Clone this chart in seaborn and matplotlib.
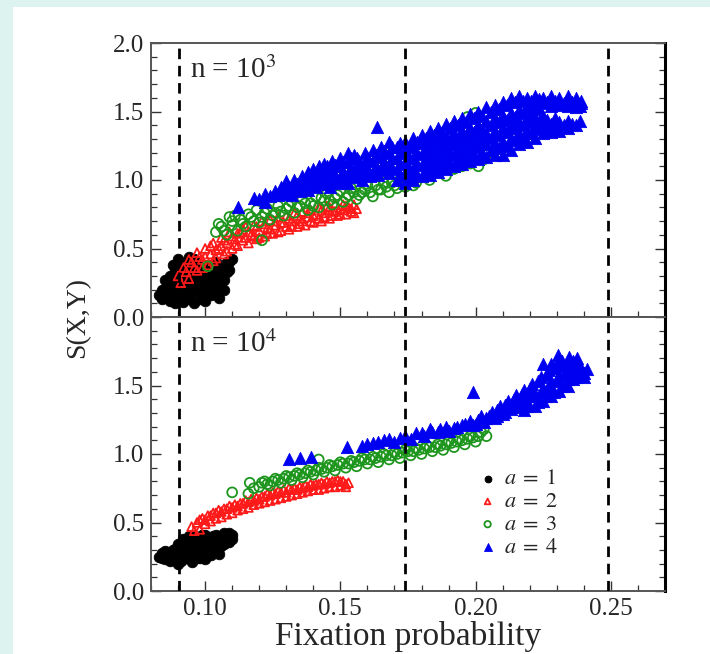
import matplotlib
matplotlib.use("Agg")
import matplotlib.pyplot as plt
import pandas as pd
import seaborn as sns
from matplotlib.ticker import MultipleLocator, NullFormatter
from matplotlib.patches import Rectangle

# ---------------- data ----------------
panel_titles = ["n = 10$^{3}$", "n = 10$^{4}$"]
series_labels = [r"$a\;=\;1$", r"$a\;=\;2$", r"$a\;=\;3$", r"$a\;=\;4$"]
x_ticks = [0.10, 0.15, 0.20, 0.25]
vlines_x = [0.0905, 0.174, 0.249]

# n = 10^3 panel
top_a1 = [(0.083,0.16),(0.084,0.20),(0.085,0.15),(0.086,0.25),(0.087,0.12),(0.087,0.30),(0.088,0.18),
          (0.088,0.38),(0.089,0.22),(0.089,0.10),(0.090,0.33),(0.090,0.42),(0.091,0.15),(0.091,0.27),
          (0.092,0.38),(0.092,0.11),(0.093,0.20),(0.093,0.32),(0.094,0.44),(0.094,0.14),(0.095,0.25),
          (0.095,0.36),(0.096,0.10),(0.096,0.30),(0.097,0.19),(0.097,0.40),(0.098,0.13),(0.098,0.27),
          (0.099,0.34),(0.100,0.22),(0.100,0.12),(0.101,0.38),(0.101,0.29),(0.102,0.16),(0.103,0.33),
          (0.103,0.24),(0.104,0.40),(0.105,0.30),(0.106,0.36),(0.107,0.27),(0.108,0.40),(0.109,0.34),
          (0.110,0.42),(0.105,0.14),
          (0.084,0.13),(0.085,0.27),(0.086,0.18),(0.087,0.22),(0.088,0.14),(0.089,0.34),(0.090,0.26),
          (0.090,0.18),(0.091,0.36),(0.092,0.30),(0.093,0.40),(0.093,0.13),(0.094,0.24),(0.095,0.18),
          (0.095,0.31),(0.096,0.42),(0.096,0.22),(0.097,0.28),(0.098,0.36),(0.098,0.20),(0.099,0.16),
          (0.099,0.26),(0.100,0.31),(0.101,0.20),(0.102,0.35),(0.102,0.25),(0.104,0.20),(0.104,0.29),
          (0.106,0.22),(0.106,0.30),(0.108,0.33),(0.109,0.40),(0.107,0.20)]
top_a2 = [(0.090,0.30),(0.092,0.36),(0.094,0.28),(0.095,0.40),(0.097,0.34),(0.097,0.47),(0.099,0.42),
          (0.100,0.50),(0.101,0.38),(0.102,0.46),(0.103,0.54),(0.104,0.43),(0.105,0.50),(0.106,0.58),
          (0.107,0.46),(0.108,0.54),(0.109,0.62),(0.110,0.50),(0.111,0.57),(0.112,0.52),(0.113,0.62),
          (0.114,0.56),(0.115,0.66),(0.116,0.54),(0.117,0.60),(0.118,0.67),(0.119,0.57),(0.120,0.63),
          (0.121,0.70),(0.122,0.59),(0.123,0.65),(0.124,0.71),(0.125,0.61),(0.126,0.67),(0.127,0.73),
          (0.128,0.63),(0.129,0.69),(0.130,0.74),(0.131,0.64),(0.132,0.70),(0.133,0.76),(0.134,0.66),
          (0.135,0.72),(0.136,0.77),(0.137,0.67),(0.138,0.73),(0.139,0.78),(0.140,0.69),(0.141,0.75),
          (0.142,0.80),(0.143,0.70),(0.144,0.76),(0.145,0.81),(0.146,0.72),(0.147,0.78),(0.148,0.83),
          (0.149,0.74),(0.150,0.79),(0.151,0.82),(0.152,0.75),(0.153,0.80),(0.154,0.77),(0.155,0.82),
          (0.156,0.79),
          (0.091,0.25),(0.093,0.33),(0.094,0.42),(0.096,0.36),(0.098,0.44),(0.099,0.36),(0.100,0.44),
          (0.102,0.52),(0.103,0.41),(0.104,0.49),(0.106,0.52),(0.107,0.56),(0.108,0.48),(0.110,0.59),
          (0.111,0.53),(0.112,0.61),(0.114,0.64),(0.115,0.58),(0.116,0.62),(0.118,0.59),(0.119,0.66),
          (0.120,0.58),(0.122,0.68),(0.123,0.61),(0.124,0.64),(0.126,0.70),(0.127,0.62),(0.128,0.69),
          (0.130,0.66),(0.131,0.72),(0.132,0.66),(0.134,0.74),(0.135,0.68),(0.136,0.70),(0.138,0.76),
          (0.139,0.70),(0.140,0.74),(0.142,0.72),(0.143,0.78),(0.144,0.73),(0.146,0.80),(0.147,0.74),
          (0.148,0.77),(0.150,0.75),(0.151,0.78),(0.152,0.81),(0.154,0.79),(0.155,0.76)]
top_a3 = [(0.101,0.37),(0.104,0.62),(0.106,0.66),(0.108,0.60),(0.109,0.73),(0.110,0.67),(0.112,0.63),
          (0.113,0.71),(0.115,0.66),(0.116,0.75),(0.118,0.70),(0.119,0.78),(0.121,0.56),(0.121,0.73),
          (0.123,0.79),(0.124,0.71),(0.126,0.76),(0.127,0.81),(0.129,0.74),(0.130,0.79),(0.132,0.84),
          (0.133,0.76),(0.135,0.81),(0.136,0.86),(0.138,0.78),(0.139,0.83),(0.141,0.88),(0.142,0.80),
          (0.144,0.85),(0.145,0.90),(0.147,0.82),(0.148,0.87),(0.150,0.92),(0.151,0.84),(0.153,0.89),
          (0.154,0.94),(0.156,0.86),(0.158,0.91),(0.160,0.96),(0.162,0.88),(0.164,0.93),(0.166,0.98),
          (0.168,0.91),(0.170,0.96),(0.172,1.00),(0.174,0.95),(0.176,1.02),(0.178,0.98),(0.180,1.04),
          (0.183,1.00),(0.186,1.06),(0.189,1.03),(0.192,1.08),(0.195,1.10),(0.198,1.12),(0.201,1.10),
          (0.203,1.15),(0.200,1.49),(0.197,1.46),(0.205,1.20),
          (0.105,0.68),(0.107,0.63),(0.110,0.70),(0.111,0.74),(0.114,0.68),(0.117,0.73),(0.120,0.69),
          (0.122,0.76),(0.125,0.74),(0.128,0.77),(0.131,0.81),(0.134,0.80),(0.137,0.83),(0.140,0.81),
          (0.143,0.87),(0.146,0.85),(0.149,0.89),(0.152,0.87),(0.155,0.91),(0.157,0.89),(0.159,0.93),
          (0.161,0.91),(0.163,0.96),(0.165,0.93),(0.167,0.95),(0.169,0.98),(0.171,0.94),(0.173,0.98),
          (0.175,0.99),(0.177,0.96)]
top_a4 = [(0.112,0.80),(0.118,0.87),(0.122,0.84),(0.122,0.90),(0.126,0.92),(0.128,0.95),(0.130,0.99),
          (0.130,0.90),(0.133,0.93),(0.133,1.00),(0.136,0.96),(0.136,1.03),(0.138,0.93),(0.138,1.06),
          (0.140,0.98),(0.140,1.08),(0.142,1.01),(0.142,1.10),(0.144,0.97),(0.144,1.05),(0.144,1.12),
          (0.147,1.00),(0.147,1.07),(0.147,1.14),(0.150,1.02),(0.150,1.10),(0.150,1.16),(0.153,0.98),
          (0.153,1.05),(0.153,1.13),(0.153,1.20),(0.155,1.18),(0.156,1.03),(0.156,1.10),(0.156,1.16),
          (0.159,1.05),(0.159,1.12),(0.159,1.20),(0.1635,1.39),(0.162,1.06),(0.162,1.14),(0.162,1.22),
          (0.165,1.09),(0.165,1.17),(0.165,1.24),(0.168,1.28),(0.168,1.05),(0.168,1.12),(0.168,1.20),
          (0.171,1.00),(0.171,1.08),(0.171,1.16),(0.171,1.24),
          (0.174,0.98),(0.174,1.05),(0.174,1.13),(0.174,1.21),(0.174,1.28),
          (0.177,1.00),(0.177,1.08),(0.177,1.16),(0.177,1.24),(0.177,1.31),
          (0.180,1.03),(0.180,1.11),(0.180,1.19),(0.180,1.27),(0.180,1.33),
          (0.183,1.04),(0.183,1.12),(0.183,1.20),(0.183,1.28),(0.183,1.36),
          (0.186,1.06),(0.186,1.14),(0.186,1.22),(0.186,1.30),(0.186,1.38),
          (0.189,1.08),(0.189,1.16),(0.189,1.24),(0.189,1.32),(0.189,1.41),
          (0.192,1.10),(0.192,1.18),(0.192,1.26),(0.192,1.34),(0.192,1.43),
          (0.195,1.12),(0.195,1.20),(0.195,1.28),(0.195,1.36),(0.195,1.45),
          (0.198,1.14),(0.198,1.22),(0.198,1.30),(0.198,1.38),(0.198,1.48),
          (0.201,1.15),(0.201,1.24),(0.201,1.32),(0.201,1.40),(0.201,1.50),
          (0.204,1.17),(0.204,1.26),(0.204,1.34),(0.204,1.43),(0.204,1.53),
          (0.207,1.18),(0.207,1.27),(0.207,1.36),(0.207,1.45),(0.207,1.55),
          (0.210,1.18),(0.210,1.28),(0.210,1.38),(0.210,1.47),(0.210,1.57),
          (0.213,1.22),(0.213,1.31),(0.213,1.40),(0.213,1.49),(0.213,1.60),
          (0.216,1.26),(0.216,1.34),(0.216,1.42),(0.216,1.51),(0.216,1.61),
          (0.219,1.28),(0.219,1.36),(0.219,1.44),(0.219,1.53),(0.219,1.60),
          (0.222,1.31),(0.222,1.38),(0.222,1.45),(0.222,1.55),(0.222,1.61),
          (0.225,1.34),(0.225,1.40),(0.225,1.47),(0.225,1.56),(0.225,1.60),
          (0.228,1.35),(0.228,1.41),(0.228,1.54),(0.228,1.61),
          (0.231,1.36),(0.231,1.42),(0.231,1.55),(0.231,1.60),
          (0.234,1.38),(0.234,1.43),(0.234,1.54),(0.234,1.61),
          (0.237,1.40),(0.237,1.53),(0.237,1.60),(0.239,1.56),(0.239,1.58),
          (0.120,0.86),(0.124,0.88),(0.127,0.89),(0.129,0.93),(0.131,0.95),(0.132,0.89),(0.134,0.97),
          (0.135,0.92),(0.137,1.00),(0.139,0.97),(0.139,1.04),(0.141,1.02),(0.141,0.95),(0.143,1.07),
          (0.143,0.99),(0.145,1.02),(0.145,1.10),(0.146,0.95),(0.148,1.04),(0.148,1.11),(0.149,0.98),
          (0.151,1.06),(0.151,1.13),(0.152,1.00),(0.154,1.09),(0.154,1.16),(0.155,1.02),(0.157,1.07),
          (0.157,1.14),(0.158,1.00),(0.160,1.09),(0.160,1.17),(0.161,1.03),(0.163,1.10),(0.163,1.18),
          (0.164,1.04),(0.166,1.13),(0.166,1.21),(0.167,1.07),(0.169,1.09),(0.169,1.16),(0.169,1.24),
          (0.172,1.04),(0.172,1.12),(0.172,1.20),(0.172,1.27),
          (0.1755,1.02),(0.1755,1.09),(0.1755,1.17),(0.1755,1.25),
          (0.1785,1.04),(0.1785,1.12),(0.1785,1.20),(0.1785,1.28),
          (0.1815,1.07),(0.1815,1.15),(0.1815,1.23),(0.1815,1.31),
          (0.1845,1.08),(0.1845,1.16),(0.1845,1.24),(0.1845,1.33),
          (0.1875,1.10),(0.1875,1.18),(0.1875,1.27),(0.1875,1.35),
          (0.1905,1.12),(0.1905,1.20),(0.1905,1.29),(0.1905,1.38),
          (0.1935,1.14),(0.1935,1.22),(0.1935,1.31),(0.1935,1.40),
          (0.1965,1.16),(0.1965,1.24),(0.1965,1.33),(0.1965,1.42),
          (0.1995,1.18),(0.1995,1.26),(0.1995,1.35),(0.1995,1.45),
          (0.2025,1.20),(0.2025,1.29),(0.2025,1.37),(0.2025,1.47),
          (0.2055,1.22),(0.2055,1.31),(0.2055,1.40),(0.2055,1.50),
          (0.2085,1.23),(0.2085,1.33),(0.2085,1.42),(0.2085,1.52),
          (0.2115,1.25),(0.2115,1.35),(0.2115,1.44),(0.2115,1.55),
          (0.2145,1.29),(0.2145,1.38),(0.2145,1.46),(0.2145,1.57),
          (0.2175,1.31),(0.2175,1.40),(0.2175,1.49),(0.2175,1.58),
          (0.2205,1.34),(0.2205,1.42),(0.2205,1.50),(0.2205,1.58),
          (0.2235,1.37),(0.2235,1.43),(0.2235,1.52),(0.2235,1.59),
          (0.2265,1.38),(0.2265,1.44),(0.2265,1.57),
          (0.2295,1.39),(0.2295,1.45),(0.2295,1.58),
          (0.2325,1.40),(0.2325,1.56),(0.2355,1.41),(0.2355,1.57),(0.2385,1.54),(0.2385,1.43)]

# n = 10^4 panel
bot_a1 = [(0.083,0.25),(0.084,0.28),(0.085,0.23),(0.086,0.26),(0.087,0.22),(0.088,0.30),(0.089,0.25),
          (0.090,0.20),(0.090,0.34),(0.091,0.28),(0.092,0.38),(0.092,0.23),(0.093,0.32),(0.094,0.27),
          (0.094,0.40),(0.095,0.21),(0.096,0.35),(0.096,0.29),(0.097,0.39),(0.098,0.24),(0.098,0.32),
          (0.099,0.36),(0.100,0.28),(0.100,0.41),(0.101,0.33),(0.102,0.38),(0.102,0.26),(0.103,0.30),
          (0.104,0.35),(0.104,0.41),(0.105,0.32),(0.106,0.38),(0.107,0.42),(0.107,0.34),(0.108,0.39),
          (0.109,0.36),(0.110,0.41),(0.110,0.38),
          (0.084,0.24),(0.085,0.29),(0.087,0.27),(0.088,0.24),(0.089,0.31),(0.091,0.22),(0.091,0.34),
          (0.093,0.26),(0.093,0.37),(0.095,0.30),(0.095,0.25),(0.096,0.40),(0.097,0.24),(0.097,0.33),
          (0.099,0.29),(0.099,0.41),(0.100,0.23),(0.101,0.37),(0.103,0.40),(0.103,0.34),(0.105,0.27),
          (0.105,0.38),(0.106,0.33),(0.108,0.36),(0.109,0.42),(0.101,0.26)]
bot_a2 = [(0.095,0.47),(0.097,0.50),(0.098,0.45),(0.099,0.53),(0.100,0.49),(0.101,0.55),(0.102,0.51),
          (0.103,0.57),(0.104,0.53),(0.105,0.59),(0.106,0.54),(0.107,0.60),(0.108,0.56),(0.109,0.62),
          (0.110,0.57),(0.111,0.63),(0.112,0.59),(0.113,0.64),(0.114,0.60),(0.115,0.66),(0.116,0.61),
          (0.117,0.67),(0.118,0.63),(0.119,0.68),(0.120,0.64),(0.121,0.69),(0.122,0.65),(0.123,0.71),
          (0.124,0.66),(0.125,0.72),(0.126,0.67),(0.127,0.73),(0.128,0.68),(0.129,0.74),(0.130,0.69),
          (0.131,0.75),(0.132,0.70),(0.133,0.75),(0.134,0.71),(0.135,0.76),(0.136,0.72),(0.137,0.77),
          (0.138,0.73),(0.139,0.78),(0.140,0.74),(0.141,0.78),(0.142,0.74),(0.143,0.79),(0.144,0.75),
          (0.145,0.80),(0.146,0.76),(0.147,0.80),(0.148,0.76),(0.149,0.81),(0.150,0.77),(0.151,0.80),
          (0.152,0.76),(0.153,0.79),
          (0.096,0.44),(0.098,0.52),(0.100,0.52),(0.102,0.55),(0.104,0.57),(0.106,0.58),(0.108,0.60),
          (0.110,0.61),(0.112,0.62),(0.114,0.64),(0.116,0.65),(0.118,0.66),(0.120,0.67),(0.122,0.69),
          (0.124,0.70),(0.126,0.71),(0.128,0.72),(0.130,0.72),(0.132,0.74),(0.134,0.74),(0.136,0.75),
          (0.138,0.76),(0.140,0.77),(0.142,0.78),(0.144,0.78),(0.146,0.79),(0.148,0.80),(0.150,0.80),
          (0.152,0.78)]
bot_a3 = [(0.110,0.72),(0.1165,0.79),(0.116,0.71),(0.120,0.76),(0.122,0.80),(0.124,0.77),(0.126,0.82),
          (0.128,0.79),(0.130,0.84),(0.132,0.81),(0.134,0.86),(0.136,0.83),(0.138,0.88),(0.140,0.85),
          (0.142,0.96),(0.142,0.90),(0.144,0.87),(0.146,0.92),(0.148,0.88),(0.150,0.94),(0.152,0.90),
          (0.154,0.95),(0.156,0.91),(0.158,0.97),(0.160,0.93),(0.162,0.98),(0.164,0.94),(0.166,1.00),
          (0.168,0.96),(0.170,1.01),(0.172,0.97),(0.174,1.03),(0.176,0.99),(0.178,1.04),(0.180,1.00),
          (0.182,1.06),(0.184,1.02),(0.186,1.07),(0.188,1.03),(0.190,1.09),(0.192,1.05),(0.194,1.11),
          (0.196,1.07),(0.198,1.13),(0.200,1.09),(0.202,1.16),(0.201,1.21),(0.204,1.13),
          (0.118,0.75),(0.121,0.79),(0.123,0.78),(0.125,0.80),(0.127,0.81),(0.129,0.82),(0.131,0.83),
          (0.133,0.84),(0.135,0.85),(0.137,0.86),(0.139,0.87),(0.141,0.88),(0.143,0.89),(0.145,0.90),
          (0.147,0.91),(0.149,0.92),(0.151,0.93),(0.153,0.93),(0.155,0.94),(0.157,0.95),(0.159,0.96),
          (0.161,0.96),(0.163,0.97),(0.165,0.98),(0.167,0.99),(0.169,0.99),(0.171,1.00),(0.173,1.01),
          (0.175,1.02),(0.177,1.02),(0.179,1.03),(0.181,1.04),(0.183,1.05),(0.185,1.05),(0.187,1.06),
          (0.189,1.07),(0.191,1.08),(0.193,1.09),(0.195,1.10),(0.197,1.11),(0.199,1.12),(0.201,1.13),
          (0.203,1.18)]
bot_a4 = [(0.131,0.96),(0.135,0.97),(0.139,0.98),(0.1525,1.05),(0.158,1.06),(0.162,1.08),(0.166,1.10),
          (0.170,1.09),(0.172,1.12),(0.176,1.11),(0.178,1.15),(0.181,1.13),(0.184,1.16),(0.187,1.18),
          (0.190,1.17),(0.193,1.20),(0.196,1.22),(0.199,1.45),(0.199,1.21),(0.201,1.25),(0.203,1.23),
          (0.205,1.28),(0.207,1.26),(0.208,1.32),(0.210,1.29),(0.211,1.36),(0.213,1.33),(0.214,1.40),
          (0.216,1.36),(0.217,1.44),(0.218,1.32),(0.219,1.39),(0.220,1.48),(0.221,1.42),(0.222,1.35),
          (0.223,1.53),(0.224,1.45),(0.225,1.39),(0.226,1.58),(0.227,1.49),(0.228,1.42),(0.229,1.63),
          (0.230,1.54),(0.231,1.46),(0.232,1.68),(0.233,1.59),(0.234,1.50),(0.235,1.65),(0.236,1.55),
          (0.237,1.61),(0.238,1.57),(0.239,1.63),(0.240,1.59),(0.2375,1.70),(0.2305,1.72),(0.225,1.66),
          (0.160,1.07),(0.164,1.09),(0.168,1.11),(0.174,1.13),(0.180,1.15),(0.183,1.18),(0.186,1.16),
          (0.189,1.20),(0.192,1.19),(0.195,1.21),(0.198,1.24),(0.200,1.22),(0.202,1.28),(0.204,1.26),
          (0.206,1.31),(0.208,1.28),(0.209,1.35),(0.211,1.31),(0.212,1.39),(0.213,1.36),(0.215,1.43),
          (0.215,1.34),(0.217,1.38),(0.218,1.47),(0.219,1.35),(0.220,1.42),(0.221,1.51),(0.222,1.44),
          (0.223,1.38),(0.224,1.56),(0.225,1.48),(0.226,1.42),(0.227,1.61),(0.228,1.53),(0.229,1.45),
          (0.230,1.66),(0.231,1.58),(0.232,1.50),(0.233,1.64),(0.234,1.55),(0.235,1.60),(0.236,1.68),
          (0.237,1.56),(0.238,1.65),(0.239,1.60),(0.240,1.56),(0.241,1.62),(0.2345,1.71),(0.228,1.66)]

panels = [[top_a1, top_a2, top_a3, top_a4], [bot_a1, bot_a2, bot_a3, bot_a4]]

rows = []
for pi, series in enumerate(panels):
    for si, pts in enumerate(series):
        for x, y in pts:
            rows.append({"panel": pi, "a": si, "x": x, "y": y})
df = pd.DataFrame(rows)

# ---------------- styling ----------------
sns.set_theme(style="white")
plt.rcParams["font.family"] = ["Liberation Serif", "DejaVu Serif"]
plt.rcParams["mathtext.fontset"] = "stix"

colors = ["black", "#ff1a1a", "#1e961e", "#0000f0"]
markers = ["o", "^", "o", "^"]
filled = [True, False, False, True]
sizes = [58, 40, 50, 78]

fig = plt.figure(figsize=(7.10, 6.54), dpi=100)
fig.patch.set_facecolor("#dcf3f0")
fig.add_artist(Rectangle((13 / 710, 0), 1, 1 - 7 / 654, transform=fig.transFigure,
                         facecolor="white", edgecolor="none", zorder=-10))

left, width, height = 151 / 710, 514 / 710, 274 / 654
ax_top = fig.add_axes([left, 1 - 317 / 654, width, height])
ax_bot = fig.add_axes([left, 1 - 591 / 654, width, height])

for pi, ax in enumerate([ax_top, ax_bot]):
    ax.set_facecolor("white")
    sub = df[df["panel"] == pi]
    for si in range(4):
        d = sub[sub["a"] == si]
        if filled[si]:
            sns.scatterplot(data=d, x="x", y="y", ax=ax, marker=markers[si], s=sizes[si],
                            color=colors[si], edgecolor=colors[si], linewidth=0.6,
                            label=series_labels[si], legend=False, zorder=3)
        else:
            sns.scatterplot(data=d, x="x", y="y", ax=ax, marker=markers[si], s=sizes[si],
                            facecolor="none", edgecolor=colors[si], linewidth=1.3,
                            label=series_labels[si], legend=False, zorder=3)
    for xv in vlines_x:
        ax.axvline(xv, color="black", lw=2.0, ls=(0, (3.8, 2.4)), zorder=4)
    ax.set_xlim(0.08, 0.27)
    ax.set_ylim(0, 2.0)
    ax.xaxis.set_major_locator(MultipleLocator(0.05))
    ax.xaxis.set_minor_locator(MultipleLocator(0.01))
    ax.yaxis.set_major_locator(MultipleLocator(0.5))
    ax.yaxis.set_minor_locator(MultipleLocator(0.1))
    ax.tick_params(which="both", direction="in", bottom=True, left=True, right=True, top=False,
                   color="#333333")
    ax.tick_params(which="major", length=7, width=1.0, labelsize=18, pad=5)
    ax.tick_params(which="minor", length=4, width=0.9)
    ax.set_xlabel("")
    ax.set_ylabel("")
    for side in ["left", "bottom", "top"]:
        ax.spines[side].set_color("#555555")
        ax.spines[side].set_linewidth(1.4)
    ax.spines["right"].set_color("black")
    ax.spines["right"].set_linewidth(2.2)
    ax.text(0.075, 0.95, panel_titles[pi], transform=ax.transAxes, fontsize=21,
            ha="left", va="top", zorder=6)
    ax.set_yticks([0.0, 0.5, 1.0, 1.5, 2.0])
    ax.set_yticklabels(["0.0", "0.5", "1.0", "1.5", "2.0"] if pi == 0 else ["0.0", "0.5", "1.0", "1.5", ""])

ax_top.set_xticks(x_ticks)
ax_top.xaxis.set_major_formatter(NullFormatter())
ax_bot.set_xticks(x_ticks)
ax_bot.set_xticklabels([f"{v:.2f}" for v in x_ticks])
ax_bot.set_xlabel("Fixation probability", fontsize=24, labelpad=1)
fig.text(78 / 710, 1 - 317 / 654, "S(X,Y)", rotation=90, fontsize=20, ha="center", va="center")

leg = ax_bot.legend(loc="upper left", bbox_to_anchor=(0.616, 0.478), frameon=False, fontsize=16,
                    handletextpad=0.25, labelspacing=0.1, handlelength=1.0, borderaxespad=0,
                    markerscale=0.65)

fig.savefig("out.png", dpi=100, facecolor=fig.get_facecolor())
